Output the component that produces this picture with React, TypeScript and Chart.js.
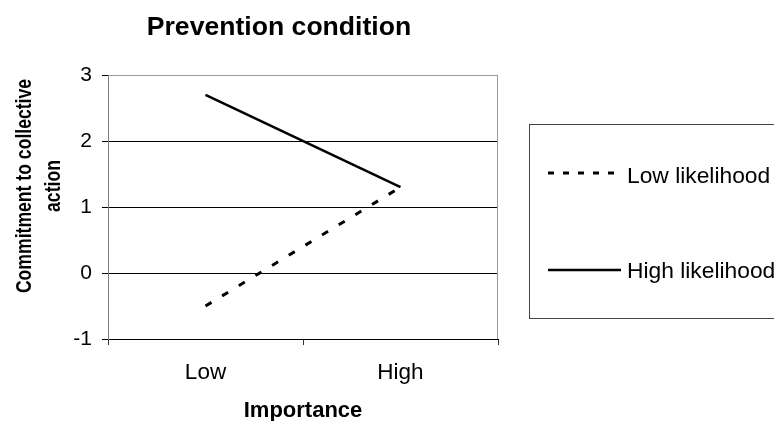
import React, { useEffect, useRef } from "react";
import { Chart, registerables } from "chart.js";

Chart.register(...registerables);

const categories = ["Low", "High"];
const lowLikelihood = [-0.5, 1.3];
const highLikelihood = [2.7, 1.3];
const seriesNames = ["Low likelihood", "High likelihood"];
const yMin = -1;
const yMax = 3;
const chartTitle = "Prevention condition";
const xTitle = "Importance";
const yTitleLines = ["Commitment to collective", "action"];

const FONT = "'Liberation Sans', Arial, Helvetica, sans-serif";

const decorPlugin = {
  id: "decor",
  beforeDatasetsDraw(chart: any) {
    const { ctx, chartArea: a } = chart;
    ctx.save();
    ctx.strokeStyle = "#9a9a9a";
    ctx.lineWidth = 1;
    ctx.beginPath();
    ctx.moveTo(Math.round(a.right) - 0.5, a.top);
    ctx.lineTo(Math.round(a.right) - 0.5, a.bottom);
    ctx.stroke();
    ctx.restore();
  },
  afterDraw(chart: any) {
    const { ctx, chartArea: a } = chart;
    ctx.save();
    ctx.fillStyle = "#000";
    // Title
    ctx.font = `bold 26.6px ${FONT}`;
    ctx.textAlign = "center";
    ctx.textBaseline = "alphabetic";
    ctx.fillText(chartTitle, 279, 35);
    // X title
    ctx.font = `bold 22px ${FONT}`;
    ctx.fillText(xTitle, (a.left + a.right) / 2, 417);
    // Y title (rotated, compressed along its length)
    const cy = 186;
    const baselines = [31, 60];
    yTitleLines.forEach((line, i) => {
      ctx.save();
      ctx.translate(baselines[i], cy);
      ctx.rotate(-Math.PI / 2);
      ctx.scale(0.8, 1);
      ctx.font = `bold 22px ${FONT}`;
      ctx.textAlign = "center";
      ctx.textBaseline = "alphabetic";
      ctx.fillText(line, 0, 0);
      ctx.restore();
    });
    // Legend box
    ctx.strokeStyle = "#444";
    ctx.lineWidth = 1;
    ctx.strokeRect(529.5, 124.5, 320, 194);
    const ds = chart.data.datasets;
    const rows = [173, 270];
    const baselineRows = [182.5, 278];
    ds.forEach((d: any, i: number) => {
      ctx.save();
      ctx.strokeStyle = d.borderColor;
      ctx.lineWidth = d.borderWidth;
      ctx.setLineDash(i === 0 ? [6, 9] : []);
      ctx.beginPath();
      ctx.moveTo(548, rows[i]);
      ctx.lineTo(i === 0 ? 615 : 621, rows[i]);
      ctx.stroke();
      ctx.restore();
      ctx.font = `22.8px ${FONT}`;
      ctx.textAlign = "left";
      ctx.textBaseline = "alphabetic";
      ctx.fillText(d.label, 627, baselineRows[i]);
    });
    ctx.restore();
  },
};

export default function App() {
  const ref = useRef<HTMLCanvasElement | null>(null);
  useEffect(() => {
    document.body.style.margin = "0";
    const canvas = ref.current!;
    const chart = new Chart(canvas, {
      type: "line",
      data: {
        labels: categories,
        datasets: [
          {
            label: seriesNames[0],
            data: lowLikelihood,
            borderColor: "#000",
            borderWidth: 3,
            borderDash: [7, 12.5],
            pointRadius: 0,
            fill: false,
          },
          {
            label: seriesNames[1],
            data: highLikelihood,
            borderColor: "#000",
            borderWidth: 2.5,
            pointRadius: 0,
            fill: false,
          },
        ],
      },
      options: {
        responsive: false,
        animation: false,
        layout: { padding: { top: 75, right: 276, left: 0, bottom: 0 } },
        plugins: {
          legend: { display: false },
          title: { display: false },
          tooltip: { enabled: false },
        },
        scales: {
          x: {
            type: "category",
            offset: true,
            grid: {
              offset: true,
              drawOnChartArea: false,
              drawTicks: true,
              tickLength: 6,
              tickColor: "#333",
            },
            border: { display: true, color: "#000" },
            ticks: {
              color: "#000",
              font: { family: FONT, size: 22.5 },
              padding: 14,
              maxRotation: 0,
            },
            afterFit(scale: any) {
              scale.height = 82;
            },
          },
          y: {
            min: yMin,
            max: yMax,
            ticks: {
              stepSize: 1,
              color: "#000",
              font: { family: FONT, size: 21 },
              padding: 10,
            },
            grid: {
              color: (c: any) => (c.tick && c.tick.value === yMax ? "#9a9a9a" : "#000"),
              tickColor: "#000",
              tickLength: 6,
              lineWidth: 1,
            },
            border: { display: true, color: "#808080" },
            afterFit(scale: any) {
              scale.width = 108;
            },
          },
        },
      },
      plugins: [decorPlugin],
    } as any);
    return () => chart.destroy();
  }, []);
  return (
    <div style={{ position: "fixed", left: 0, top: 0, width: 774, height: 421 }}>
      <canvas ref={ref} width={774} height={421} style={{ width: 774, height: 421, display: "block" }} />
    </div>
  );
}
